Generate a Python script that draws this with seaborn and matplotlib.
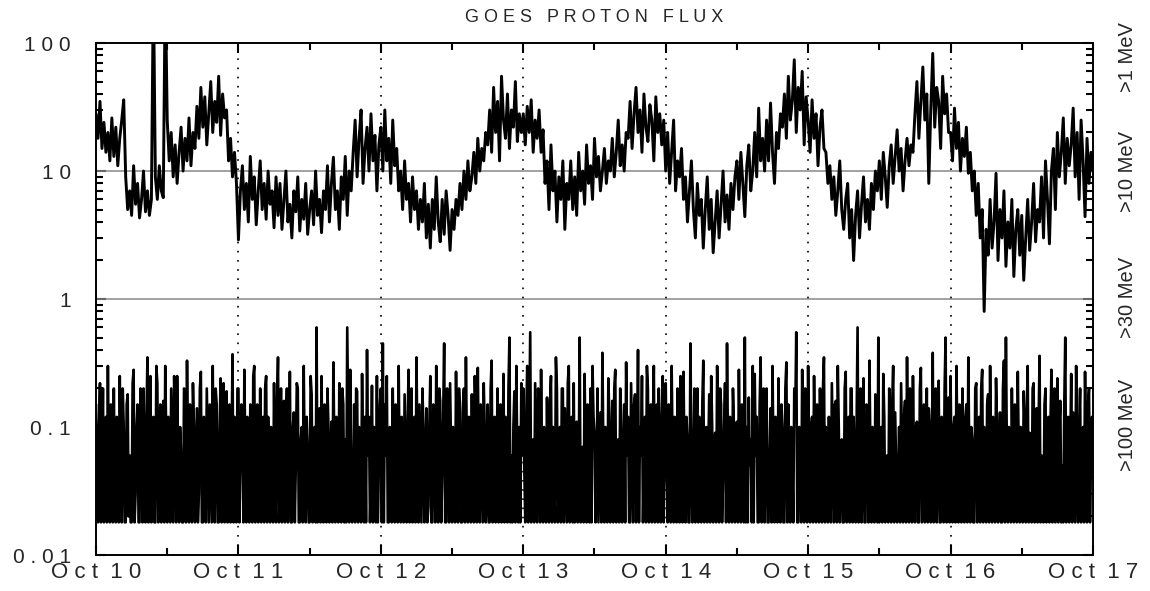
import numpy as np
import pandas as pd
import matplotlib
matplotlib.use("Agg")
import matplotlib.pyplot as plt
from matplotlib.ticker import LogLocator, NullFormatter
import seaborn as sns

# -----------------------------
# data, one list per day
# -----------------------------
day_labels = ["O c t  1 0", "O c t  1 1", "O c t  1 2", "O c t  1 3",
              "O c t  1 4", "O c t  1 5", "O c t  1 6", "O c t  1 7"]
ytick_values = [0.01, 0.1, 1, 10, 100]
ytick_labels = ["0 . 0 1", "0 . 1", "1", "1 0", "1 0 0"]
channel_labels = [">1 MeV", ">10 MeV", ">30 MeV", ">100 MeV"]

# >10 MeV flux (upper trace), 20 minute samples
p10_oct10 = [28, 18, 35, 15, 24, 14,
             20, 12, 26, 13, 22, 11, 18, 25, 36,
             9, 5, 7, 4.5, 11, 5.5, 8, 4.3, 6, 10, 4.8, 7, 4.5, 6,
             300,
             9, 6, 11, 7, 6.2,
             300,
             25, 12, 20, 9, 16, 8, 14, 22, 10, 18, 12, 26, 11, 20, 15,
             32, 18, 45, 22, 38, 16, 28, 50, 20, 35, 24, 55, 19, 40, 26,
             30, 12, 18, 9, 14, 8]
p10_oct11 = [2.9, 7,
             11, 5, 8, 4, 13, 6, 9, 3.8, 7, 12, 5, 8, 4.2, 10, 5.5, 7, 3.6, 9,
             4.5, 8, 3.5, 6, 10, 4, 5.5, 3, 7, 4.8, 9, 3.4, 6, 4.2, 8, 3.2, 5, 7, 3.8, 10, 4.5, 6, 3.3, 7,
             5, 11, 4, 8, 12.8, 5, 7, 3.5, 9, 6, 13, 4.5, 10, 7,
             14, 25, 9, 18, 30, 8, 15, 22, 10, 28, 12, 19, 7, 16]
p10_oct12 = [22, 10, 30, 12, 18, 8, 25, 11,
             15, 7, 10, 5, 12, 6, 8, 4, 9, 5, 7, 3.5, 6,
             4, 8, 3, 5.5, 2.5, 6, 3.5, 9, 4, 2.8, 6, 3.2, 7, 4.5, 2.4, 5, 3.5, 6,
             4.5, 8, 5, 10, 6, 12, 7, 9, 14, 8, 18, 10, 15, 12, 20,
             16, 30, 14, 45, 20, 35, 12, 55, 25, 18, 40, 15, 30, 22, 50, 17, 28, 20]
p10_oct13 = [28, 16, 32, 20, 36, 14, 25, 18, 30,
             14, 21, 8, 12, 5, 16, 7, 10, 4, 9, 6, 12, 3.5, 8,
             6, 12, 5, 9, 4.5, 14, 7, 10, 5.5, 16, 8, 11, 6, 18, 9, 13, 7, 10, 15, 8, 12,
             10, 18, 9, 14, 25, 11, 16, 10, 20,
             18, 35, 15, 28, 45, 20, 30, 14, 40, 22, 17, 33, 25, 12, 38, 20, 28, 16,
             25]
p10_oct14 = [10, 20, 8, 14, 25, 7, 12, 9,
             15, 6, 9, 4, 7, 12, 5, 3, 8, 4.5, 6, 2.5, 5, 9, 3.5, 6, 2.3, 4, 7, 3, 5.5, 10, 4, 6.5, 3.5, 8,
             5, 9, 12, 6, 14, 8, 4.4, 11, 16, 7, 10, 20, 9, 31, 12,
             18, 10, 25, 12, 34, 14, 8, 20, 15, 28,
             22, 40, 18, 55, 25, 35, 74, 20, 45, 30, 60, 16, 38]
p10_oct15 = [25, 14, 36, 18, 28, 11, 22, 30, 15,
             14, 8, 11, 6, 9, 4.5, 7, 12, 5, 3.5, 6, 8, 3, 5, 2, 4.5, 7, 3, 5.5, 9, 4, 6, 3.5, 8, 5, 10,
             7, 12, 6, 14, 9, 5.2, 11, 16, 8, 13, 21, 10, 15, 7, 12, 18, 11, 16, 14,
             28, 50, 18, 35, 65, 25, 40, 8, 30, 83, 22, 45, 35, 15, 55, 28, 40, 20]
p10_oct16 = [20, 12, 31, 15, 24, 10, 18, 13, 22, 9.6,
             14, 7, 10, 4.5, 8, 3, 5, 0.8, 3.5, 2.2, 6,
             2.5, 4, 9.6, 2, 5, 3, 7, 1.8, 4, 2.5, 6, 1.5, 3.5, 5, 2.2, 4.5, 1.4, 3, 6, 2.4, 4, 8, 2.8, 5,
             4, 9, 3, 12, 6, 2.7, 10, 15, 5, 20, 9, 14, 26, 8, 18, 11,
             16, 31, 9, 20, 6, 25, 12, 4.4, 18, 8, 14, 10]

# >100 MeV flux (lower trace), 10 minute samples sitting on the 0.018 floor
p100_oct10 = [0.15, 0.05, 0.018, 0.1, 0.22, 0.018, 0.05, 0.2, 0.018, 0.06, 0.12, 0.018,
              0.3, 0.04, 0.018, 0.15, 0.08, 0.018, 0.2, 0.03, 0.018, 0.12, 0.04, 0.018,
              0.25, 0.06, 0.018, 0.2, 0.1, 0.018, 0.018, 0.15, 0.18, 0.02, 0.06, 0.018,
              0.018, 0.22, 0.28, 0.018, 0.03, 0.1, 0.15, 0.018, 0.018, 0.2, 0.09, 0.018,
              0.2, 0.05, 0.018, 0.12, 0.35, 0.018, 0.05, 0.25, 0.018, 0.04, 0.12, 0.018,
              0.018, 0.3, 0.22, 0.018, 0.07, 0.15, 0.018, 0.05, 0.16, 0.018, 0.3, 0.08,
              0.018, 0.12, 0.04, 0.018, 0.2, 0.06, 0.018, 0.25, 0.11, 0.018, 0.25, 0.05,
              0.018, 0.1, 0.06, 0.018, 0.018, 0.2, 0.18, 0.018, 0.33, 0.06, 0.018, 0.15,
              0.08, 0.018, 0.22, 0.1, 0.018, 0.05, 0.14, 0.018, 0.03, 0.2, 0.27, 0.018,
              0.018, 0.12, 0.1, 0.018, 0.2, 0.06, 0.018, 0.15, 0.05, 0.018, 0.3, 0.04,
              0.018, 0.2, 0.15, 0.018, 0.018, 0.1, 0.24, 0.018, 0.07, 0.22, 0.018, 0.05,
              0.19, 0.018, 0.04, 0.15, 0.018, 0.06, 0.37, 0.018, 0.12, 0.05, 0.018, 0.2]
p100_oct11 = [0.2, 0.018, 0.06, 0.15, 0.1, 0.018, 0.28, 0.05, 0.018, 0.12, 0.05, 0.018,
              0.15, 0.04, 0.018, 0.25, 0.3, 0.018, 0.08, 0.15, 0.018, 0.03, 0.2, 0.018,
              0.04, 0.12, 0.018, 0.2, 0.25, 0.018, 0.12, 0.05, 0.018, 0.1, 0.06, 0.018,
              0.22, 0.04, 0.018, 0.15, 0.35, 0.018, 0.03, 0.2, 0.018, 0.06, 0.16, 0.018,
              0.09, 0.2, 0.018, 0.05, 0.27, 0.018, 0.018, 0.1, 0.13, 0.018, 0.05, 0.22,
              0.2, 0.018, 0.018, 0.08, 0.1, 0.018, 0.3, 0.05, 0.018, 0.12, 0.07, 0.018,
              0.018, 0.25, 0.18, 0.018, 0.04, 0.1, 0.018, 0.6, 0.018, 0.06, 0.14, 0.018,
              0.25, 0.04, 0.018, 0.15, 0.06, 0.018, 0.2, 0.1, 0.018, 0.05, 0.11, 0.018,
              0.32, 0.06, 0.018, 0.12, 0.05, 0.018, 0.22, 0.04, 0.018, 0.2, 0.15, 0.018,
              0.08, 0.018, 0.6, 0.1, 0.018, 0.28, 0.05, 0.018, 0.03, 0.15, 0.018, 0.2,
              0.19, 0.018, 0.1, 0.05, 0.018, 0.26, 0.05, 0.018, 0.12, 0.018, 0.4, 0.06,
              0.12, 0.018, 0.04, 0.21, 0.018, 0.1, 0.07, 0.018, 0.25, 0.018, 0.05, 0.15]
p100_oct12 = [0.2, 0.018, 0.45, 0.018, 0.15, 0.06, 0.25, 0.018, 0.018, 0.1, 0.06, 0.018,
              0.2, 0.05, 0.018, 0.15, 0.1, 0.018, 0.3, 0.04, 0.018, 0.12, 0.04, 0.018,
              0.18, 0.06, 0.018, 0.1, 0.28, 0.018, 0.08, 0.2, 0.018, 0.05, 0.12, 0.018,
              0.35, 0.06, 0.018, 0.15, 0.05, 0.018, 0.2, 0.1, 0.018, 0.04, 0.14, 0.018,
              0.024, 0.1, 0.25, 0.018, 0.018, 0.15, 0.09, 0.018, 0.3, 0.05, 0.018, 0.2,
              0.16, 0.018, 0.04, 0.12, 0.45, 0.018, 0.018, 0.2, 0.11, 0.018, 0.22, 0.06,
              0.018, 0.1, 0.06, 0.018, 0.27, 0.05, 0.018, 0.2, 0.13, 0.018, 0.018, 0.15,
              0.2, 0.018, 0.35, 0.06, 0.018, 0.12, 0.07, 0.018, 0.18, 0.04, 0.018, 0.25,
              0.1, 0.018, 0.29, 0.06, 0.018, 0.15, 0.05, 0.018, 0.22, 0.1, 0.018, 0.03,
              0.15, 0.018, 0.018, 0.2, 0.33, 0.018, 0.08, 0.12, 0.018, 0.05, 0.2, 0.018,
              0.03, 0.15, 0.018, 0.04, 0.26, 0.018, 0.12, 0.06, 0.018, 0.2, 0.5, 0.018,
              0.06, 0.018, 0.1, 0.19, 0.018, 0.3, 0.05, 0.018, 0.1, 0.018, 0.22, 0.06]
p100_oct13 = [0.2, 0.05, 0.018, 0.12, 0.3, 0.018, 0.1, 0.55, 0.018, 0.04, 0.08, 0.018,
              0.22, 0.06, 0.018, 0.2, 0.12, 0.018, 0.28, 0.04, 0.018, 0.1, 0.05, 0.018,
              0.17, 0.03, 0.018, 0.15, 0.25, 0.018, 0.1, 0.06, 0.018, 0.35, 0.2, 0.018,
              0.04, 0.1, 0.018, 0.2, 0.2, 0.018, 0.14, 0.05, 0.018, 0.22, 0.3, 0.018,
              0.06, 0.12, 0.018, 0.22, 0.018, 0.1, 0.11, 0.018, 0.04, 0.5, 0.018, 0.06,
              0.07, 0.018, 0.26, 0.05, 0.018, 0.15, 0.04, 0.018, 0.2, 0.018, 0.3, 0.12,
              0.09, 0.018, 0.03, 0.2, 0.018, 0.05, 0.13, 0.018, 0.38, 0.06, 0.018, 0.1,
              0.05, 0.018, 0.24, 0.12, 0.018, 0.04, 0.16, 0.018, 0.2, 0.28, 0.018, 0.06,
              0.08, 0.018, 0.2, 0.1, 0.018, 0.03, 0.15, 0.018, 0.32, 0.06, 0.12, 0.018,
              0.018, 0.22, 0.06, 0.018, 0.15, 0.18, 0.018, 0.05, 0.4, 0.018, 0.1, 0.06,
              0.25, 0.018, 0.05, 0.12, 0.018, 0.3, 0.2, 0.018, 0.04, 0.15, 0.018, 0.1,
              0.3, 0.018, 0.06, 0.15, 0.018, 0.2, 0.05, 0.018, 0.12, 0.25, 0.018, 0.08]
p100_oct14 = [0.22, 0.05, 0.018, 0.15, 0.1, 0.018, 0.3, 0.06, 0.018, 0.12, 0.06, 0.018,
              0.2, 0.04, 0.018, 0.25, 0.14, 0.018, 0.27, 0.05, 0.018, 0.12, 0.08, 0.018,
              0.018, 0.45, 0.06, 0.018, 0.05, 0.2, 0.018, 0.1, 0.2, 0.018, 0.12, 0.05,
              0.018, 0.15, 0.33, 0.018, 0.04, 0.1, 0.018, 0.06, 0.18, 0.018, 0.25, 0.1,
              0.018, 0.05, 0.09, 0.018, 0.3, 0.12, 0.018, 0.2, 0.15, 0.018, 0.04, 0.1,
              0.22, 0.018, 0.45, 0.06, 0.018, 0.12, 0.06, 0.018, 0.2, 0.1, 0.018, 0.05,
              0.11, 0.018, 0.28, 0.06, 0.018, 0.15, 0.04, 0.018, 0.5, 0.018, 0.1, 0.018,
              0.17, 0.05, 0.08, 0.018, 0.3, 0.018, 0.26, 0.06, 0.12, 0.018, 0.018, 0.15,
              0.35, 0.018, 0.05, 0.2, 0.018, 0.1, 0.2, 0.018, 0.018, 0.06, 0.14, 0.018,
              0.3, 0.05, 0.018, 0.12, 0.07, 0.018, 0.24, 0.05, 0.018, 0.15, 0.1, 0.018,
              0.018, 0.2, 0.32, 0.018, 0.15, 0.06, 0.018, 0.1, 0.05, 0.018, 0.2, 0.12,
              0.55, 0.018, 0.018, 0.1, 0.09, 0.018, 0.28, 0.05, 0.018, 0.2, 0.16, 0.018]
p100_oct15 = [0.3, 0.05, 0.018, 0.1, 0.12, 0.018, 0.25, 0.06, 0.018, 0.15, 0.06, 0.018,
              0.2, 0.04, 0.018, 0.2, 0.35, 0.018, 0.1, 0.05, 0.018, 0.12, 0.04, 0.018,
              0.22, 0.06, 0.018, 0.15, 0.16, 0.018, 0.3, 0.1, 0.018, 0.05, 0.08, 0.018,
              0.018, 0.2, 0.27, 0.018, 0.05, 0.12, 0.018, 0.2, 0.2, 0.018, 0.12, 0.05,
              0.018, 0.1, 0.6, 0.018, 0.07, 0.2, 0.018, 0.04, 0.24, 0.018, 0.018, 0.15,
              0.14, 0.018, 0.33, 0.06, 0.018, 0.1, 0.05, 0.018, 0.18, 0.06, 0.018, 0.5,
              0.018, 0.05, 0.1, 0.018, 0.26, 0.12, 0.018, 0.04, 0.06, 0.018, 0.2, 0.1,
              0.018, 0.15, 0.3, 0.018, 0.13, 0.05, 0.018, 0.04, 0.1, 0.018, 0.22, 0.06,
              0.018, 0.12, 0.16, 0.018, 0.35, 0.05, 0.018, 0.2, 0.08, 0.018, 0.25, 0.06,
              0.018, 0.1, 0.11, 0.018, 0.018, 0.2, 0.29, 0.018, 0.05, 0.15, 0.018, 0.04,
              0.2, 0.018, 0.14, 0.1, 0.018, 0.05, 0.38, 0.018, 0.07, 0.2, 0.018, 0.06,
              0.23, 0.018, 0.018, 0.12, 0.1, 0.018, 0.2, 0.5, 0.018, 0.06, 0.17, 0.018]
p100_oct16 = [0.25, 0.05, 0.018, 0.1, 0.12, 0.018, 0.3, 0.06, 0.018, 0.15, 0.06, 0.018,
              0.2, 0.04, 0.018, 0.12, 0.15, 0.018, 0.35, 0.05, 0.018, 0.1, 0.08, 0.018,
              0.018, 0.2, 0.22, 0.018, 0.04, 0.12, 0.018, 0.2, 0.28, 0.018, 0.1, 0.05,
              0.018, 0.15, 0.18, 0.018, 0.3, 0.06, 0.018, 0.12, 0.05, 0.018, 0.24, 0.1,
              0.018, 0.04, 0.13, 0.018, 0.018, 0.2, 0.33, 0.018, 0.5, 0.06, 0.018, 0.1,
              0.07, 0.018, 0.2, 0.05, 0.018, 0.15, 0.11, 0.018, 0.27, 0.06, 0.018, 0.1,
              0.04, 0.018, 0.19, 0.1, 0.018, 0.12, 0.3, 0.018, 0.09, 0.05, 0.018, 0.2,
              0.22, 0.018, 0.06, 0.14, 0.018, 0.1, 0.36, 0.018, 0.06, 0.04, 0.018, 0.15,
              0.2, 0.018, 0.05, 0.12, 0.018, 0.1, 0.28, 0.018, 0.05, 0.2, 0.018, 0.06,
              0.24, 0.018, 0.1, 0.16, 0.018, 0.05, 0.018, 0.15, 0.5, 0.018, 0.08, 0.12,
              0.018, 0.06, 0.26, 0.018, 0.13, 0.05, 0.018, 0.3, 0.05, 0.018, 0.1, 0.2,
              0.018, 0.04, 0.1, 0.018, 0.27, 0.06, 0.018, 0.15, 0.2, 0.018, 0.06, 0.12,
              0.06]

p10 = np.concatenate([p10_oct10, p10_oct11, p10_oct12, p10_oct13,
                      p10_oct14, p10_oct15, p10_oct16])
p100 = np.concatenate([p100_oct10, p100_oct11, p100_oct12, p100_oct13,
                       p100_oct14, p100_oct15, p100_oct16])

# time in hours since Oct 10 00:00
df10 = pd.DataFrame({"hours": np.arange(len(p10)) * 20 / 60, "flux": p10})
df100 = pd.DataFrame({"hours": np.arange(len(p100)) * 10 / 60, "flux": p100})

# -----------------------------
# style
# -----------------------------
sns.set_style("ticks")
plt.rcParams["font.family"] = ["Liberation Sans", "DejaVu Sans"]

fig = plt.figure(figsize=(11.5, 5.91), dpi=100)
ax = fig.add_axes([0.0835, 0.0609, 0.8669, 0.8663])
ax.set_yscale("log")

# reference lines
for v in [10, 1]:
    ax.axhline(v, color="#888888", lw=1.1, zorder=1)
for d in range(1, 7):
    ax.axvline(24 * d, color="black", lw=1.2, ls=(0, (1, 4.5)), zorder=1)

# -----------------------------
# traces
# -----------------------------
sns.lineplot(data=df10, x="hours", y="flux", color="black", lw=2.1, ax=ax, zorder=3)
sns.lineplot(data=df100, x="hours", y="flux", color="black", lw=1.9, ax=ax, zorder=3)

ax.set_xlim(0, 168)
ax.set_ylim(0.01, 100)
ax.set_xlabel("")
ax.set_ylabel("")

ax.set_xticks(np.arange(0, 169, 24))
ax.set_xticklabels(day_labels, fontsize=16)
ax.set_xticks(np.arange(12, 168, 24), minor=True)
ax.set_yticks(ytick_values)
ax.set_yticklabels(ytick_labels, fontsize=15)
ax.yaxis.set_minor_locator(LogLocator(base=10, subs=np.arange(2, 10)))
ax.yaxis.set_minor_formatter(NullFormatter())

ax.tick_params(which="both", direction="in", top=True, right=True,
               width=1.5, color="black")
ax.tick_params(which="major", length=7.5)
ax.tick_params(which="minor", length=5)
ax.tick_params(axis="y", which="major", pad=18)
ax.tick_params(axis="x", which="major", pad=5)

for s in ax.spines.values():
    s.set_linewidth(1.4)
    s.set_color("black")

# channel names on the right
for lab, yf in zip(channel_labels, [0.972, 0.75, 0.504, 0.255]):
    ax.text(1.035, yf, lab, rotation=90, ha="center", va="center",
            fontsize=14.5, transform=ax.transAxes)

fig.text(0.517, 1 - 18 / 591, "G O E S   P R O T O N   F L U X",
         ha="center", va="center", fontsize=13)

fig.savefig("out.png", dpi=100)
plt.close(fig)
